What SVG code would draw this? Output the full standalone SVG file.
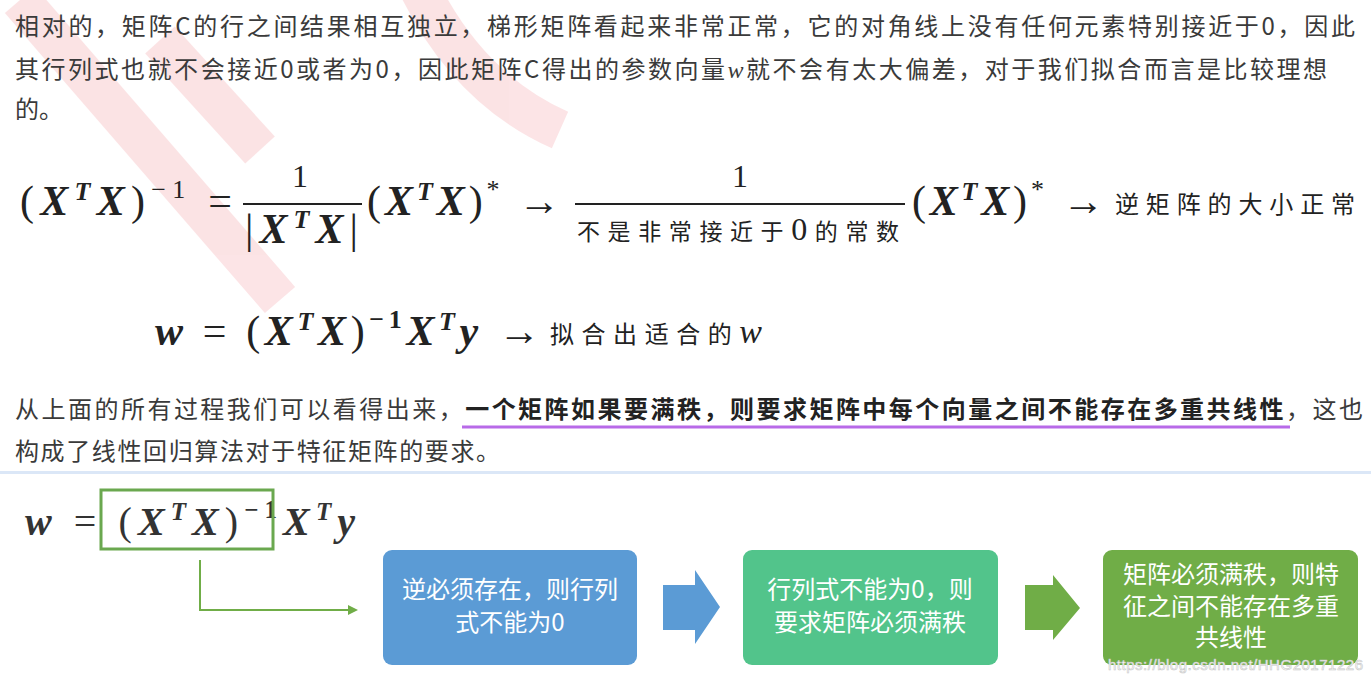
<svg xmlns="http://www.w3.org/2000/svg" width="1371" height="684" viewBox="0 0 1371 684">
<defs>
<style>
.t{font-family:"Noto Sans CJK SC","Liberation Sans",sans-serif;font-size:24px;fill:#3a3a3a}
.m{font-family:"Liberation Serif","Noto Sans CJK SC",serif;fill:#222}
.bx{font-style:italic;font-weight:bold}
.c{font-family:"Noto Sans CJK SC",sans-serif;fill:#222}
.w{font-family:"Noto Sans CJK SC","Liberation Sans",sans-serif;font-size:24px;fill:#fff;text-anchor:middle}
</style>
<marker id="ga" markerWidth="10" markerHeight="10" refX="8" refY="5" orient="auto" markerUnits="userSpaceOnUse"><path d="M0,0 L10,5 L0,10 Z" fill="#70AD47"/></marker>
</defs>
<rect width="1371" height="684" fill="#fff"/>
<g opacity="0.13" fill="none" stroke="#e8303a" stroke-width="40">
<path d="M20,0 L280,300"/>
<path d="M160,40 L260,150"/>
<path d="M420,-10 Q470,90 560,130"/>
</g>
<g id="para1">
<text class="t" x="15" y="35" textLength="1340" lengthAdjust="spacing">相对的，矩阵C的行之间结果相互独立，梯形矩阵看起来非常正常，它的对角线上没有任何元素特别接近于0，因此</text>
<text class="t" x="15" y="78" textLength="1312" lengthAdjust="spacing">其行列式也就不会接近0或者为0，因此矩阵C得出的参数向量<tspan font-family="Liberation Serif" font-style="italic">w</tspan>就不会有太大偏差，对于我们拟合而言是比较理想</text>
<text class="t" x="15" y="118">的。</text>
</g>
<g id="formula1" class="m" font-size="42">
<text x="20" y="215" textLength="212" lengthAdjust="spacing">(<tspan class="bx">X</tspan><tspan class="bx" font-size="26" dy="-15">T</tspan><tspan class="bx" dy="15">X</tspan>)<tspan font-size="26" dy="-17">−1</tspan><tspan dy="17"> =</tspan></text>
<text x="292" y="187" font-size="32">1</text>
<line x1="243" y1="204" x2="362" y2="204" stroke="#222" stroke-width="2"/>
<text x="245" y="243" textLength="113" lengthAdjust="spacing">|<tspan class="bx">X</tspan><tspan class="bx" font-size="26" dy="-15">T</tspan><tspan class="bx" dy="15">X</tspan>|</text>
<text x="367" y="215" textLength="193" lengthAdjust="spacing">(<tspan class="bx">X</tspan><tspan class="bx" font-size="26" dy="-15">T</tspan><tspan class="bx" dy="15">X</tspan>)<tspan font-size="26" dy="-17">*</tspan><tspan dy="17"> →</tspan></text>
<text x="732" y="187" font-size="32">1</text>
<line x1="575" y1="204" x2="905" y2="204" stroke="#222" stroke-width="2"/>
<text x="577" y="240" font-size="23" textLength="322" lengthAdjust="spacing"><tspan class="c">不是非常接近于</tspan><tspan font-size="32">0</tspan><tspan class="c">的常数</tspan></text>
<text x="912" y="215" textLength="192" lengthAdjust="spacing">(<tspan class="bx">X</tspan><tspan class="bx" font-size="26" dy="-15">T</tspan><tspan class="bx" dy="15">X</tspan>)<tspan font-size="26" dy="-17">*</tspan><tspan dy="17"> →</tspan></text>
<text x="1115" y="213" class="c" font-size="24" textLength="240" lengthAdjust="spacing">逆矩阵的大小正常</text>
</g>
<g id="formula2" class="m" font-size="42">
<text x="155" y="345" textLength="385" lengthAdjust="spacing"><tspan class="bx">w</tspan> = (<tspan class="bx">X</tspan><tspan class="bx" font-size="26" dy="-15">T</tspan><tspan class="bx" dy="15">X</tspan>)<tspan font-size="26" font-weight="bold" dy="-17">−1</tspan><tspan class="bx" dy="17">X</tspan><tspan class="bx" font-size="26" dy="-15">T</tspan><tspan class="bx" dy="15">y</tspan> →</text>
<text x="550" y="343" class="c" font-size="24" textLength="212" lengthAdjust="spacing">拟合出适合的<tspan font-family="Liberation Serif" font-style="italic" font-size="34">w</tspan></text>
</g>
<g id="para2">
<line x1="462" y1="427" x2="1290" y2="427" stroke="#b86ae8" stroke-width="3"/>
<text class="t" x="15" y="418" textLength="1348" lengthAdjust="spacing">从上面的所有过程我们可以看得出来，<tspan font-weight="bold" fill="#222">一个矩阵如果要满秩，则要求矩阵中每个向量之间不能存在多重共线性</tspan>，这也</text>
<text class="t" x="15" y="460" textLength="485" lengthAdjust="spacing">构成了线性回归算法对于特征矩阵的要求。</text>
</g>
<rect x="0" y="471" width="1371" height="3" fill="#dbe7f7"/>
<g id="formula3" class="m" font-size="40">
<text x="25" y="535" fill="#333" textLength="330" lengthAdjust="spacing"><tspan class="bx">w</tspan> = (<tspan class="bx">X</tspan><tspan class="bx" font-size="25" dy="-15">T</tspan><tspan class="bx" dy="15">X</tspan>)<tspan font-size="25" font-weight="bold" dy="-17">−1</tspan><tspan class="bx" dy="17">X</tspan><tspan class="bx" font-size="25" dy="-15">T</tspan><tspan class="bx" dy="15">y</tspan></text>
<rect x="101" y="490" width="172" height="59" fill="none" stroke="#6aa84f" stroke-width="3"/>
</g>
<g id="connectors">
<path d="M200,560 V610 H356" fill="none" stroke="#70AD47" stroke-width="2" marker-end="url(#ga)"/>
<path d="M663,585 H695 V570 L720,607 L695,644 V630 H663 Z" fill="#5B9BD5"/>
<path d="M1025,585 H1053 V575 L1080,608 L1053,640 V630 H1025 Z" fill="#70AD47"/>
</g>
<g id="box1">
<rect x="383" y="550" width="254" height="115" rx="9" fill="#5B9BD5"/>
<text class="w" x="510" y="598">逆必须存在，则行列</text>
<text class="w" x="510" y="631">式不能为0</text>
</g>
<g id="box2">
<rect x="743" y="550" width="255" height="115" rx="9" fill="#52C48B"/>
<text class="w" x="870" y="598">行列式不能为0，则</text>
<text class="w" x="870" y="631">要求矩阵必须满秩</text>
</g>
<g id="box3">
<rect x="1103" y="550" width="255" height="115" rx="9" fill="#70AD47"/>
<text class="w" x="1231" y="583">矩阵必须满秩，则特</text>
<text class="w" x="1231" y="615">征之间不能存在多重</text>
<text class="w" x="1231" y="646">共线性</text>
</g>
<text x="1108" y="670" font-family="Liberation Sans,sans-serif" font-size="15" fill="#fff" stroke="#c8c8c8" stroke-width="0.6" textLength="255">https://blog.csdn.net/HHG20171226</text>
</svg>
